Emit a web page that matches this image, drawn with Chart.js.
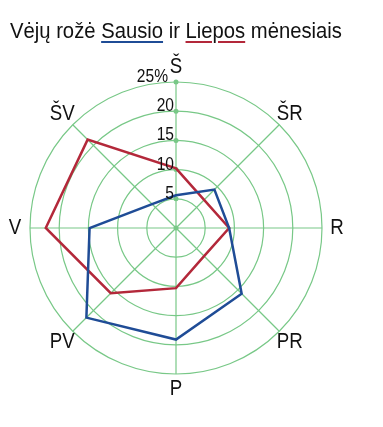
<!DOCTYPE html>
<html>
<head>
<meta charset="utf-8">
<script src="https://cdn.jsdelivr.net/npm/chart.js@4"></script>
<style>
  body { margin: 0; background: #fff; }
  #wrap { position: relative; width: 383px; height: 427px; }
  #title {
    position: absolute; left: 10px; top: 20px;
    font: 22px/22px "Liberation Sans", Arial, sans-serif;
    color: #111; white-space: nowrap;
    transform: scaleX(0.92); transform-origin: left top;
  }
  #title span { text-decoration: underline; text-decoration-thickness: 2px; text-underline-offset: 3px; }
  #chart { position: absolute; left: 0; top: 0; }
</style>
</head>
<body>
<div id="wrap">
  <canvas id="chart" width="383" height="427"></canvas>
  <div id="title">Vėjų rožė <span style="text-decoration-color:#1f4c96">Sausio</span> ir <span style="text-decoration-color:#b3283a">Liepos</span> mėnesiais</div>
</div>
<script>
// wind directions, clockwise from north
var directions = ['Š', 'ŠR', 'R', 'PR', 'P', 'PV', 'V', 'ŠV'];

// share of winds, %
var sausio = [5.6, 9.3, 9.1, 15.9, 19.1, 21.7, 14.8, 5.8];
var liepos = [10.2, 6.8, 9.1, 6.8, 10.3, 15.8, 22.3, 21.4];

// ring labels
var tickValues = [5, 10, 15, 20, 25];
var tickLabels = ['5', '10', '15', '20', '25%'];

var gridColor = 'rgb(120,200,135)';

// narrow text, like the original's condensed font
function narrowText(ctx, text, x, y, squeeze) {
    ctx.save();
    ctx.translate(x, y);
    ctx.scale(squeeze, 1);
    ctx.fillText(text, 0, 0);
    ctx.restore();
}

var roseLabels = {
    id: 'roseLabels',
    beforeDatasetsDraw: function (chart) {
        var ctx = chart.ctx;
        var scale = chart.scales.r;
        ctx.save();
        ctx.fillStyle = gridColor;
        [0].concat(tickValues).forEach(function (v) {
            var p = scale.getPointPositionForValue(0, v);
            ctx.beginPath();
            ctx.arc(p.x, p.y, 2.5, 0, Math.PI * 2);
            ctx.fill();
        });
        ctx.restore();
    },
    afterDraw: function (chart) {
        var ctx = chart.ctx;
        var scale = chart.scales.r;
        ctx.save();
        ctx.fillStyle = '#111';
        ctx.font = '19px "Liberation Sans", Arial, sans-serif';
        ctx.textAlign = 'right';
        ctx.textBaseline = 'alphabetic';
        tickValues.forEach(function (v, i) {
            var p = scale.getPointPositionForValue(0, v);
            var gap = tickLabels[i].indexOf('%') > -1 ? 8 : 2;
            narrowText(ctx, tickLabels[i], p.x - gap, p.y, 0.82);
        });
        ctx.font = '22px "Liberation Sans", Arial, sans-serif';
        ctx.textAlign = 'center';
        ctx.textBaseline = 'middle';
        directions.forEach(function (d, i) {
            var p = scale.getPointPosition(i, scale.drawingArea + 15);
            narrowText(ctx, d, p.x, p.y, 0.85);
        });
        ctx.restore();
    }
};

var ctx = document.getElementById('chart');

var windRose = new Chart(ctx, {
    type: 'radar',
    data: {
        labels: directions,
        datasets: [
            {
                label: 'Sausio',
                data: sausio,
                borderColor: '#1f4c96',
                borderWidth: 2.5,
                pointRadius: 0,
                fill: false
            },
            {
                label: 'Liepos',
                data: liepos,
                borderColor: '#b3283a',
                borderWidth: 2.5,
                pointRadius: 0,
                fill: false
            }
        ]
    },
    options: {
        responsive: false,
        animation: false,
        layout: { padding: { left: 30, right: 61, top: 82, bottom: 53 } },
        plugins: {
            legend: { display: false },
            tooltip: { enabled: false }
        },
        elements: { line: { tension: 0 } },
        scales: {
            r: {
                min: 0,
                max: 25,
                ticks: { stepSize: 5, display: false },
                grid: { circular: true, color: gridColor, lineWidth: 1.2 },
                angleLines: { color: gridColor, lineWidth: 1.2 },
                pointLabels: { display: false }
            }
        }
    },
    plugins: [roseLabels]
});
</script>
</body>
</html>
